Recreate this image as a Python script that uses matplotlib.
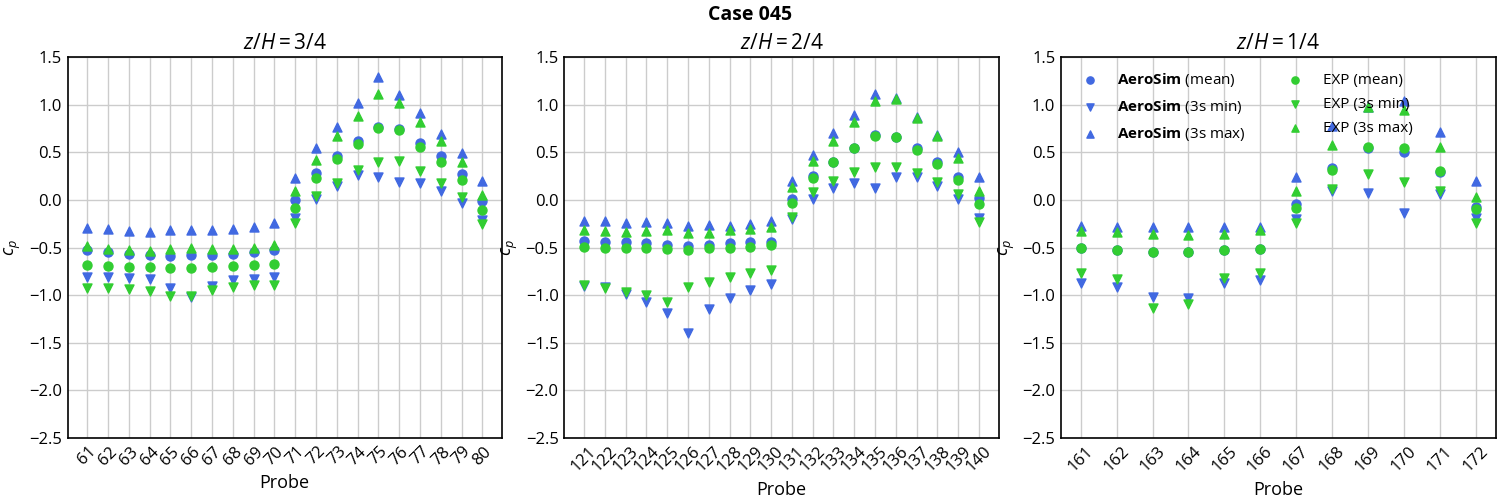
import matplotlib
matplotlib.use("Agg")
import matplotlib.pyplot as plt
import numpy as np

plt.rcParams['font.family'] = ['Open Sans', 'DejaVu Sans']
plt.rcParams['mathtext.fontset'] = 'custom'
plt.rcParams['mathtext.rm'] = 'Open Sans'
plt.rcParams['mathtext.it'] = 'Open Sans:italic'
plt.rcParams['mathtext.bf'] = 'Open Sans:bold'

# ---------------- data ----------------
probes_1 = [str(p) for p in range(61, 81)]
aero_mean_1 = [-0.53, -0.55, -0.565, -0.575, -0.585, -0.58, -0.575, -0.565, -0.545, -0.53,
               0.0, 0.28, 0.46, 0.62, 0.765, 0.74, 0.60, 0.46, 0.27, -0.01]
aero_min_1 = [-0.81, -0.81, -0.82, -0.83, -0.93, -1.02, -0.90, -0.84, -0.83, -0.81,
              -0.19, 0.01, 0.15, 0.26, 0.24, 0.19, 0.18, 0.09, -0.03, -0.21]
aero_max_1 = [-0.30, -0.305, -0.33, -0.34, -0.32, -0.32, -0.32, -0.305, -0.28, -0.24,
              0.225, 0.54, 0.77, 1.02, 1.29, 1.10, 0.91, 0.69, 0.49, 0.20]
exp_mean_1 = [-0.68, -0.69, -0.70, -0.70, -0.71, -0.71, -0.70, -0.69, -0.68, -0.67,
              -0.09, 0.23, 0.43, 0.59, 0.755, 0.73, 0.56, 0.40, 0.21, -0.11]
exp_min_1 = [-0.92, -0.93, -0.94, -0.96, -1.01, -1.01, -0.95, -0.91, -0.89, -0.89,
             -0.24, 0.04, 0.18, 0.31, 0.40, 0.41, 0.30, 0.175, 0.025, -0.25]
exp_max_1 = [-0.48, -0.52, -0.53, -0.54, -0.52, -0.51, -0.52, -0.52, -0.50, -0.47,
             0.09, 0.42, 0.67, 0.88, 1.11, 1.02, 0.82, 0.62, 0.40, 0.05]

probes_2 = [str(p) for p in range(121, 141)]
aero_mean_2 = [-0.43, -0.44, -0.44, -0.45, -0.47, -0.48, -0.47, -0.455, -0.44, -0.44,
               0.01, 0.25, 0.40, 0.54, 0.68, 0.66, 0.54, 0.40, 0.245, 0.02]
aero_min_2 = [-0.90, -0.91, -0.99, -1.07, -1.19, -1.40, -1.15, -1.035, -0.95, -0.88,
              -0.20, 0.01, 0.12, 0.18, 0.12, 0.235, 0.235, 0.15, 0.01, -0.19]
aero_max_2 = [-0.22, -0.22, -0.24, -0.23, -0.24, -0.27, -0.26, -0.27, -0.25, -0.22,
              0.20, 0.47, 0.70, 0.89, 1.11, 1.07, 0.87, 0.68, 0.50, 0.235]
exp_mean_2 = [-0.49, -0.50, -0.51, -0.51, -0.52, -0.53, -0.51, -0.50, -0.49, -0.47,
              -0.035, 0.23, 0.40, 0.54, 0.67, 0.66, 0.52, 0.38, 0.21, -0.045]
exp_min_2 = [-0.895, -0.93, -0.97, -1.00, -1.07, -0.91, -0.86, -0.81, -0.765, -0.74,
             -0.175, 0.08, 0.20, 0.29, 0.35, 0.35, 0.28, 0.19, 0.06, -0.23]
exp_max_2 = [-0.32, -0.33, -0.34, -0.33, -0.32, -0.35, -0.35, -0.32, -0.31, -0.28,
             0.13, 0.41, 0.62, 0.82, 1.035, 1.06, 0.86, 0.67, 0.44, 0.09]

probes_3 = [str(p) for p in range(161, 173)]
aero_mean_3 = [-0.51, -0.53, -0.545, -0.55, -0.53, -0.52, -0.04, 0.33, 0.54, 0.50, 0.29, -0.08]
aero_min_3 = [-0.87, -0.91, -1.02, -1.035, -0.87, -0.84, -0.20, 0.095, 0.07, -0.14, 0.065, -0.19]
aero_max_3 = [-0.27, -0.28, -0.29, -0.29, -0.29, -0.28, 0.235, 0.78, 0.97, 1.035, 0.71, 0.20]
exp_mean_3 = [-0.51, -0.53, -0.55, -0.55, -0.53, -0.52, -0.09, 0.31, 0.56, 0.545, 0.30, -0.10]
exp_min_3 = [-0.77, -0.835, -1.13, -1.09, -0.825, -0.77, -0.245, 0.115, 0.27, 0.185, 0.09, -0.245]
exp_max_3 = [-0.33, -0.34, -0.36, -0.37, -0.36, -0.32, 0.095, 0.58, 0.97, 0.94, 0.55, 0.035]

titles = [r"$z/H = 3/4$", r"$z/H = 2/4$", r"$z/H = 1/4$"]

BLUE = "#4169E1"
GREEN = "#32CD32"

panels = [
    (probes_1, aero_mean_1, aero_min_1, aero_max_1, exp_mean_1, exp_min_1, exp_max_1),
    (probes_2, aero_mean_2, aero_min_2, aero_max_2, exp_mean_2, exp_min_2, exp_max_2),
    (probes_3, aero_mean_3, aero_min_3, aero_max_3, exp_mean_3, exp_min_3, exp_max_3),
]

fig, axes = plt.subplots(1, 3, figsize=(15, 5), dpi=100)
fig.subplots_adjust(left=0.045, right=0.997, top=0.886, bottom=0.124, wspace=0.143)

for i, (ax, title, data) in enumerate(zip(axes, titles, panels)):
    probes, am, amin, amax, em, emin, emax = data
    x = np.arange(len(probes))
    ax.set_axisbelow(True)
    ax.grid(True, color="#cccccc", linewidth=1.0)
    ax.scatter(x, am, marker="o", s=42, color=BLUE, label=r"$\mathbf{AeroSim}$ (mean)", zorder=3)
    ax.scatter(x, amin, marker="v", s=42, color=BLUE, label=r"$\mathbf{AeroSim}$ (3s min)", zorder=3)
    ax.scatter(x, amax, marker="^", s=42, color=BLUE, label=r"$\mathbf{AeroSim}$ (3s max)", zorder=3)
    ax.scatter(x, em, marker="o", s=42, color=GREEN, label="EXP (mean)", zorder=3)
    ax.scatter(x, emin, marker="v", s=42, color=GREEN, label="EXP (3s min)", zorder=3)
    ax.scatter(x, emax, marker="^", s=42, color=GREEN, label="EXP (3s max)", zorder=3)
    ax.set_xticks(x)
    ax.set_xticklabels(probes, rotation=45)
    ax.set_ylim(-2.5, 1.5)
    ax.set_yticks(np.arange(-2.5, 1.51, 0.5))
    ax.tick_params(length=0, labelsize=12, pad=4)
    ax.set_xlabel("Probe", fontsize=13)
    ax.set_ylabel(r"$c_p$", fontsize=13)
    ax.set_title(title, fontsize=15)
    for sp in ax.spines.values():
        sp.set_color("black")
        sp.set_linewidth(1.2)
    if i == 2:
        ax.legend(ncol=2, frameon=False, fontsize=11, loc="upper left",
                  handletextpad=0.8, columnspacing=2.2, labelspacing=0.6,
                  markerscale=0.8)

fig.suptitle("Case 045", fontsize=14, fontweight="bold", y=0.99)
fig.savefig("out.png", dpi=100)
